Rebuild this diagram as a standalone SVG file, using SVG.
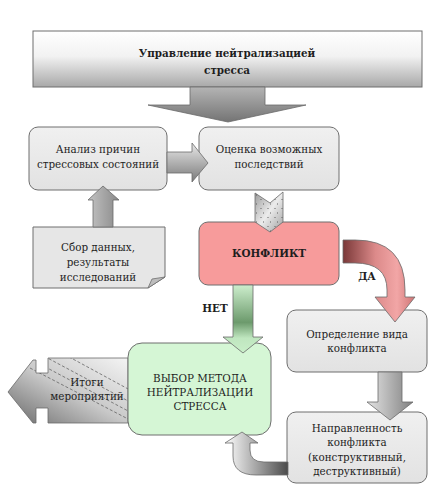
<svg xmlns="http://www.w3.org/2000/svg" width="438" height="490" viewBox="0 0 438 490">
<defs>
<linearGradient id="gBanner" x1="0" y1="0" x2="0" y2="1">
<stop offset="0" stop-color="#ffffff"/><stop offset="0.45" stop-color="#f2f2f2"/><stop offset="1" stop-color="#a8a8a8"/>
</linearGradient>
<linearGradient id="gTop" x1="0" y1="0" x2="0" y2="1">
<stop offset="0" stop-color="#b4b4b4"/><stop offset="1" stop-color="#747474"/>
</linearGradient>
<linearGradient id="gBox" x1="0" y1="0" x2="0" y2="1">
<stop offset="0" stop-color="#f0f0f0"/><stop offset="1" stop-color="#e2e2e2"/>
</linearGradient>
<linearGradient id="gV" x1="0" y1="0" x2="0" y2="1">
<stop offset="0" stop-color="#e8e8e8"/><stop offset="1" stop-color="#7a7a7a"/>
</linearGradient>
<linearGradient id="gH" x1="0" y1="0" x2="1" y2="0">
<stop offset="0" stop-color="#e4e4e4"/><stop offset="1" stop-color="#808080"/>
</linearGradient>
<linearGradient id="gUp" x1="0" y1="0" x2="1" y2="0">
<stop offset="0" stop-color="#c4c4c4"/><stop offset="0.5" stop-color="#a6a6a6"/><stop offset="1" stop-color="#8a8a8a"/>
</linearGradient>
<linearGradient id="gNet" x1="0" y1="0" x2="0" y2="1">
<stop offset="0" stop-color="#cdeecd"/><stop offset="0.55" stop-color="#6c9a6c"/><stop offset="0.78" stop-color="#bfe6bf"/><stop offset="1" stop-color="#c9efc9"/>
</linearGradient>
<linearGradient id="gDa" gradientUnits="userSpaceOnUse" x1="343" y1="0" x2="415" y2="0">
<stop offset="0" stop-color="#7a3838"/><stop offset="0.45" stop-color="#dc8a8a"/><stop offset="0.75" stop-color="#f2a6a6"/><stop offset="1" stop-color="#cf7474"/>
</linearGradient>
<linearGradient id="gCurve" gradientUnits="userSpaceOnUse" x1="225" y1="0" x2="288" y2="0">
<stop offset="0" stop-color="#ffffff"/><stop offset="1" stop-color="#4a4a4a"/>
</linearGradient>
<linearGradient id="gItogi" x1="0" y1="1" x2="1" y2="0">
<stop offset="0" stop-color="#6a6a6a"/><stop offset="0.5" stop-color="#c8c8c8"/><stop offset="1" stop-color="#f4f4f4"/>
</linearGradient>
<linearGradient id="gChev" x1="0" y1="0" x2="1" y2="1">
<stop offset="0" stop-color="#9a9a9a"/><stop offset="0.5" stop-color="#ececec"/><stop offset="1" stop-color="#a0a0a0"/>
</linearGradient>
<pattern id="pSpeck" width="7" height="9" patternUnits="userSpaceOnUse">
<rect x="1" y="1" width="2" height="1" fill="#555" opacity="0.45"/>
<rect x="4" y="5" width="1" height="2" fill="#444" opacity="0.4"/>
</pattern>
<clipPath id="cItogi"><polygon points="8,392 33,360 36,360 36,373 48,373 48,358 128,358 128,423 48,423 48,408 36,408 36,423 33,423"/></clipPath>
</defs>
<style>
.t{font-family:"DejaVu Serif Condensed","DejaVu Serif","Liberation Serif",serif;font-stretch:condensed;font-size:11.5px;fill:#1e1e1e;text-anchor:middle}
.b{font-weight:bold}
.box{stroke:#6e6e6e;stroke-width:1}
.arr{stroke:#6a6a6a;stroke-width:0.8}
</style>

<g id="itogi">
<polygon points="8,392 33,360 36,360 36,373 48,373 48,358 128,358 128,423 48,423 48,408 36,408 36,423 33,423" fill="url(#gItogi)" class="arr"/>
<g clip-path="url(#cItogi)" stroke="#555" stroke-width="0.7" stroke-dasharray="3,2" fill="none">
<line x1="40" y1="354" x2="130" y2="402"/>
<line x1="36" y1="362" x2="130" y2="412"/>
<line x1="30" y1="368" x2="130" y2="420"/>
<line x1="60" y1="352" x2="130" y2="390"/>
</g>
<text class="t" x="87" y="386">Итоги</text>
<text class="t" x="87" y="400">мероприятий</text>
</g>

<g id="banner">
<rect x="33" y="31" width="389" height="56" fill="url(#gBanner)" class="box"/>
<text class="t b" x="227" y="57">Управление нейтрализацией</text>
<text class="t b" x="227" y="74">стресса</text>
</g>

<g id="analiz">
<rect x="29" y="127" width="138" height="63" rx="9" fill="url(#gBox)" class="box"/>
<text class="t" x="98" y="153">Анализ причин</text>
<text class="t" x="98" y="168">стрессовых состояний</text>
</g>

<g id="ocenka">
<rect x="199" y="127" width="140" height="63" rx="9" fill="url(#gBox)" class="box"/>
<text class="t" x="269" y="153">Оценка возможных</text>
<text class="t" x="269" y="168">последствий</text>
</g>

<g id="sbor">
<path d="M33,227 L165,227 L165,277 L148,288 L33,288 Z" fill="#e6e6e6" class="box"/>
<path d="M148,288 L152,279 L165,277 Z" fill="#bdbdbd" stroke="#6e6e6e" stroke-width="0.8"/>
<text class="t" x="98" y="251">Сбор данных,</text>
<text class="t" x="98" y="266">результаты</text>
<text class="t" x="98" y="281">исследований</text>
</g>

<g id="konflikt">
<rect x="199" y="222" width="140" height="63" rx="9" fill="#f79b9b" class="box"/>
<text class="t b" x="269" y="257">КОНФЛИКТ</text>
</g>

<g id="vybor">
<rect x="128" y="343" width="143" height="92" rx="14" fill="#d5f6d5" class="box"/>
<text class="t" x="200" y="382">ВЫБОР МЕТОДА</text>
<text class="t" x="200" y="396">НЕЙТРАЛИЗАЦИИ</text>
<text class="t" x="200" y="410">СТРЕССА</text>
</g>

<g id="opredelenie">
<rect x="287" y="310" width="140" height="62" rx="9" fill="url(#gBox)" class="box"/>
<text class="t" x="357" y="338">Определение вида</text>
<text class="t" x="357" y="352">конфликта</text>
</g>

<g id="napravlennost">
<rect x="287" y="412" width="140" height="71" rx="9" fill="url(#gBox)" class="box"/>
<text class="t" x="357" y="432">Направленность</text>
<text class="t" x="357" y="446">конфликта</text>
<text class="t" x="357" y="461">(конструктивный,</text>
<text class="t" x="357" y="475">деструктивный)</text>
</g>

<g id="connectors">
<polygon points="190,87 265,87 265,105 306,105 228,122 148,105 190,105" fill="url(#gTop)" class="arr"/>
<polygon points="167,152 192,152 192,143 208,163 192,182 192,173 167,173" fill="url(#gV)" class="arr"/>
<polygon points="93,227 93,200 88,200 103,186 119,200 113,200 113,227" fill="url(#gUp)" class="arr"/>
<polygon points="255,193 270,203 283,192 283,222 270,232 255,222" fill="url(#gChev)" class="arr"/>
<polygon points="255,193 270,203 283,192 283,222 270,232 255,222" fill="url(#pSpeck)"/>
<path d="M343,240 L355,240 Q405,240 405,290 L405,297 L415,297 L395,322 L375,297 L387,297 L387,290 Q387,263 355,263 L343,263 Z" fill="url(#gDa)" class="arr"/>
<text class="t b" x="367" y="280">ДА</text>
<polygon points="233,285 253,285 253,337 263,337 243,353 223,337 233,337" fill="url(#gNet)" class="arr"/>
<text class="t b" x="215" y="312">НЕТ</text>
<polygon points="378,372 402,372 402,402 413,402 390,420 367,402 378,402" fill="url(#gH)" class="arr"/>
<path d="M288,462 L264,462 Q250,462 250,450 L250,443 L258,443 L242,432 L225,443 L233,443 L233,456 Q233,475 256,475 L288,475 Z" fill="url(#gCurve)" class="arr"/>
</g>
</svg>
